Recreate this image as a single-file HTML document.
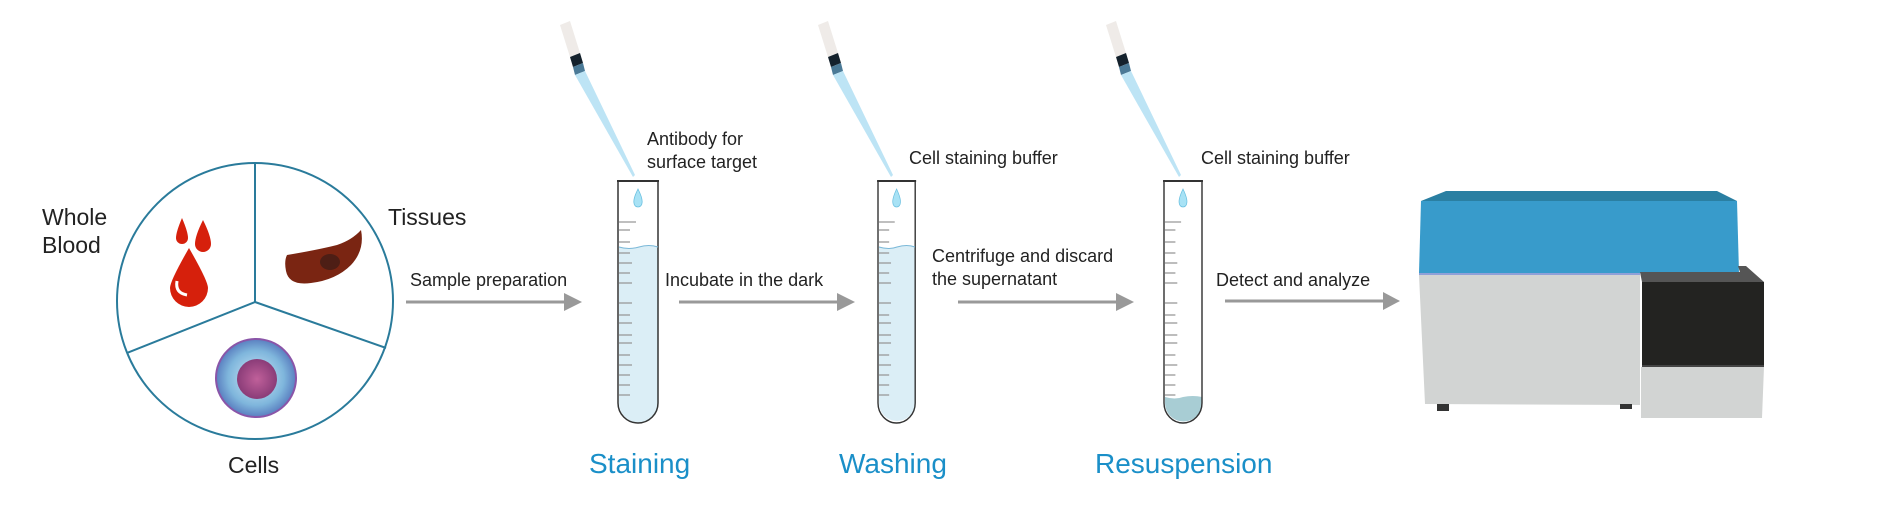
<!DOCTYPE html>
<html><head><meta charset="utf-8"><style>
body{margin:0;background:#fff;width:1891px;height:525px;overflow:hidden}
svg{display:block}
text{font-family:"Liberation Sans",sans-serif;fill:#222}
.s{font-size:18px}
.b{font-size:23px}
.t{font-size:28px;fill:#1a8fc8}
</style></head><body>
<svg width="1891" height="525" viewBox="0 0 1891 525">
<defs>
<radialGradient id="cell" cx="0.5" cy="0.5" r="0.5"><stop offset="0" stop-color="#cfe9f7"/><stop offset="0.7" stop-color="#7fb6dc"/><stop offset="1" stop-color="#5a7fc0"/></radialGradient>
<radialGradient id="nuc" cx="0.5" cy="0.5" r="0.5"><stop offset="0" stop-color="#c0609a"/><stop offset="1" stop-color="#8a3c78"/></radialGradient>
<g id="pip">
<polygon points="0,0 10,-4 20,28 10,32" fill="#efebe8"/>
<polygon points="10,32 20,28 23,38 13,42" fill="#14212c"/>
<polygon points="13,42 23,38 25,46 15,50" fill="#4b7a97"/>
<polygon points="15,50 25,46 75,150 73,152" fill="#bde4f5"/>
</g>
<g id="tube">
<path d="M0,0 V222 a20,20 0 0 0 40,0 V0" fill="none" stroke="#333" stroke-width="1.5"/>
<line x1="-1" y1="0" x2="41" y2="0" stroke="#333" stroke-width="2"/>
<path d="M20,8 q-5,10 -4,14 a4,4 0 0 0 8,0 q1,-4 -4,-14z" fill="#a8e2f5" stroke="#6ac0e0" stroke-width="0.8"/>
<g stroke="#999" stroke-width="1.3">
<line x1="1" y1="41" x2="18" y2="41"/><line x1="1" y1="49" x2="12" y2="49"/><line x1="1" y1="61" x2="12" y2="61"/><line x1="1" y1="72" x2="12" y2="72"/><line x1="1" y1="82" x2="14" y2="82"/><line x1="1" y1="92" x2="12" y2="92"/><line x1="1" y1="102" x2="14" y2="102"/><line x1="1" y1="122" x2="14" y2="122"/><line x1="1" y1="134" x2="12" y2="134"/><line x1="1" y1="142" x2="14" y2="142"/><line x1="1" y1="154" x2="14" y2="154"/><line x1="1" y1="162" x2="14" y2="162"/><line x1="1" y1="174" x2="12" y2="174"/><line x1="1" y1="184" x2="14" y2="184"/><line x1="1" y1="194" x2="12" y2="194"/><line x1="1" y1="204" x2="12" y2="204"/><line x1="1" y1="214" x2="12" y2="214"/>
</g>
</g>
</defs>

<circle cx="255" cy="301" r="138" fill="none" stroke="#2a7b9b" stroke-width="2"/>
<g stroke="#2a7b9b" stroke-width="2"><line x1="255" y1="163" x2="255" y2="302"/><line x1="255" y1="302" x2="127" y2="353"/><line x1="255" y1="302" x2="386" y2="348"/></g>
<path d="M182,218 q-6,14 -6,20 a6,6 0 0 0 12,0 q0,-6 -6,-20z" fill="#d6200c"/>
<path d="M203,220 q-8,16 -8,24 a7,7 0 0 0 16,0 q0,-8 -8,-24z" fill="#d6200c"/>
<path d="M189,248 q-19,33 -19,40 a19,19 0 0 0 38,0 q0,-7 -19,-40z" fill="#d6200c"/>
<path d="M177,281 q-2,12 10,14" stroke="#fff" stroke-width="3" fill="none"/>
<path d="M287,255 q30,-5 50,-10 q15,-5 24,-15 q4,20 -10,35 q-15,15 -40,18 q-22,3 -25,-12 q-2,-10 1,-16z" fill="#7a2512"/>
<ellipse cx="330" cy="262" rx="10" ry="8" fill="#2e1a18" opacity="0.6"/>
<ellipse cx="256" cy="378" rx="40" ry="39" fill="url(#cell)" stroke="#8a55a8" stroke-width="2"/>
<circle cx="257" cy="379" r="20" fill="url(#nuc)"/>

<text class="b" x="42" y="225">Whole</text>
<text class="b" x="42" y="253">Blood</text>
<text class="b" x="388" y="225">Tissues</text>
<text class="b" x="228" y="473">Cells</text>

<g stroke="#999" stroke-width="3"><line x1="406" y1="302" x2="566" y2="302"/><line x1="679" y1="302" x2="839" y2="302"/><line x1="958" y1="302" x2="1118" y2="302"/><line x1="1225" y1="301" x2="1385" y2="301"/></g>
<g fill="#999"><polygon points="564,293 582,302 564,311"/><polygon points="837,293 855,302 837,311"/><polygon points="1116,293 1134,302 1116,311"/><polygon points="1383,292 1400,301 1383,310"/></g>
<text class="s" x="410" y="286">Sample preparation</text>
<text class="s" x="665" y="286">Incubate in the dark</text>
<text class="s" x="932" y="262">Centrifuge and discard</text>
<text class="s" x="932" y="285">the supernatant</text>
<text class="s" x="1216" y="286">Detect and analyze</text>

<use href="#pip" x="560" y="25"/>
<use href="#pip" x="818" y="25"/>
<use href="#pip" x="1106" y="25"/>
<text class="s" x="647" y="145">Antibody for</text>
<text class="s" x="647" y="168">surface target</text>
<text class="s" x="909" y="164">Cell staining buffer</text>
<text class="s" x="1201" y="164">Cell staining buffer</text>

<path d="M619,247 q10,3 20,0 q10,-3 19,0 V403 a19.5,19.5 0 0 1 -39,0z" fill="#dbeef6"/>
<path d="M879,247 q10,3 18,0 q10,-3 18,0 V403 a18,18 0 0 1 -36,0z" fill="#dbeef6"/>
<path d="M1165,397 q10,3 18,0 q10,-2 19,0 V403 a18.5,18.5 0 0 1 -37,0z" fill="#a8cdd4"/>
<g transform="translate(618,181)"><use href="#tube"/></g>
<g transform="translate(878,181) scale(0.93,1)"><use href="#tube"/></g>
<g transform="translate(1164,181) scale(0.95,1)"><use href="#tube"/></g>
<path d="M619,247 q10,3 20,0 q10,-3 19,0" stroke="#7ab8d8" fill="none"/>
<path d="M879,247 q10,3 18,0 q10,-3 18,0" stroke="#7ab8d8" fill="none"/>

<text class="t" x="589" y="473">Staining</text>
<text class="t" x="839" y="473">Washing</text>
<text class="t" x="1095" y="473">Resuspension</text>

<polygon points="1446,191 1717,191 1737,201 1421,201" fill="#2a7fa2"/>
<polygon points="1421,201 1737,201 1739,273 1419,273" fill="#389bcb"/>
<line x1="1419" y1="274" x2="1640" y2="274" stroke="#8fa0d8" stroke-width="2"/>
<polygon points="1419,275 1640,275 1640,405 1425,404" fill="#d2d4d3"/>
<rect x="1437" y="404" width="12" height="7" fill="#333"/>
<rect x="1620" y="404" width="12" height="5" fill="#333"/>
<polygon points="1640,272 1740,272 1738,266 1746,266 1764,282 1642,282" fill="#555"/>
<rect x="1642" y="282" width="122" height="83" fill="#232321"/>
<rect x="1642" y="365" width="122" height="2" fill="#444"/>
<polygon points="1641,367 1764,367 1762,418 1641,418" fill="#d2d4d3"/>
</svg>
</body></html>
